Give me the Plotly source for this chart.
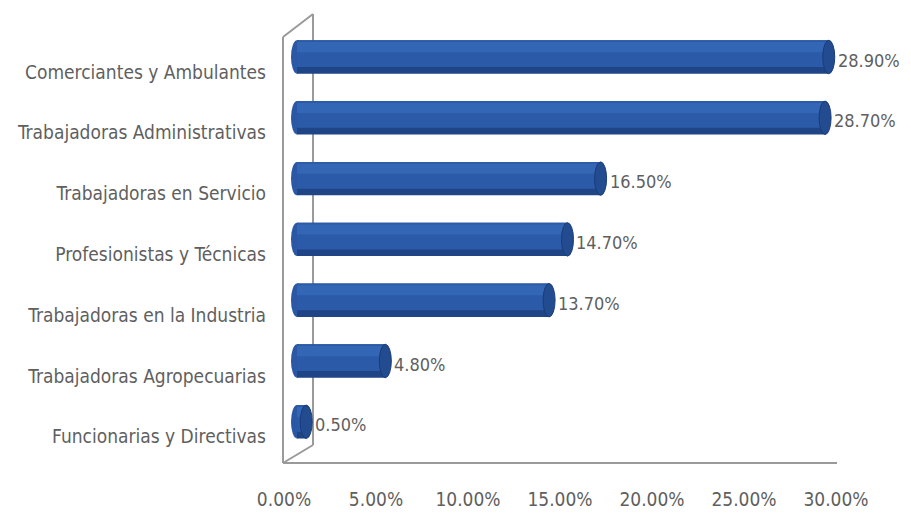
import plotly.graph_objects as go

# --- data -------------------------------------------------------------
categories = [
    "Comerciantes y Ambulantes",
    "Trabajadoras Administrativas",
    "Trabajadoras en Servicio",
    "Profesionistas y Técnicas",
    "Trabajadoras en la Industria",
    "Trabajadoras Agropecuarias",
    "Funcionarias y Directivas",
]
values = [28.9, 28.7, 16.5, 14.7, 13.7, 4.8, 0.5]
tick_values = [0, 5, 10, 15, 20, 25, 30]
tick_labels = ["0.00%", "5.00%", "10.00%", "15.00%", "20.00%", "25.00%", "30.00%"]

# --- layout constants (pixels) -----------------------------------------
W, H = 911, 518
X0_PX, PX_PER_UNIT = 297.0, 18.4        # bar origin and horizontal scale
Y0_PX, PX_PER_ROW = 57.0, 60.8          # first row centre and row pitch
BAR_T = 0.55                            # cylinder thickness (row units)
CAP = 6.0 / PX_PER_UNIT                 # half-width of the end ellipses

FONT = "Liberation Sans Narrow, DejaVu Sans Condensed, Arial Narrow, sans-serif"
TXT = "#5f5f5f"
FRAME = "#9a9a9a"

xr = [-X0_PX / PX_PER_UNIT, (W - X0_PX) / PX_PER_UNIT]
yr = [(H - Y0_PX) / PX_PER_ROW, -Y0_PX / PX_PER_ROW]
rows = list(range(len(categories)))

fig = go.Figure()

# cylinder body: dark base with lighter bands layered on top
bands = [
    (-BAR_T / 2, BAR_T, "#1f4586"),
    (-BAR_T / 2, BAR_T * 0.80, "#2b5ba8"),
    (-BAR_T / 2 + 0.03, BAR_T * 0.30, "#3366b5"),
]
for off, wd, col in bands:
    fig.add_trace(go.Bar(
        x=values, y=rows, orientation="h", base=0,
        width=wd, offset=off,
        marker=dict(color=col, line=dict(width=0)),
        hoverinfo="skip", showlegend=False,
    ))

shapes = []
# rounded near end and darker far-end cap of each cylinder
for r, v in zip(rows, values):
    shapes.append(dict(
        type="circle", xref="x", yref="y", layer="below",
        x0=-CAP, x1=CAP, y0=r - BAR_T / 2, y1=r + BAR_T / 2,
        fillcolor="#2a58a4", line=dict(width=0),
    ))
    shapes.append(dict(
        type="circle", xref="x", yref="y", layer="above",
        x0=v - CAP, x1=v + CAP, y0=r - BAR_T / 2, y1=r + BAR_T / 2,
        fillcolor="#234b90", line=dict(color="#1a3c78", width=1),
    ))

# 3-D frame: side wall and floor edge
def px(xp, yp):
    return xp / W, 1 - yp / H

frame_pts = [
    ((283, 37), (283, 463)),
    ((313, 14), (313, 445)),
    ((283, 37), (313, 14)),
    ((283, 463), (313, 445)),
    ((283, 463), (837, 463)),
]
for (a, b) in frame_pts:
    xa, ya = px(*a)
    xb, yb = px(*b)
    shapes.append(dict(
        type="line", xref="paper", yref="paper", layer="below",
        x0=xa, y0=ya, x1=xb, y1=yb,
        line=dict(color=FRAME, width=2),
    ))

# value labels at the end of each cylinder
annotations = []
for r, v in zip(rows, values):
    annotations.append(dict(
        x=v + CAP, y=r, xref="x", yref="y",
        text=f"{v:.2f}%", showarrow=False,
        xanchor="left", yanchor="middle", xshift=1, yshift=-3,
        font=dict(family=FONT, size=18, color=TXT),
    ))

fig.update_layout(
    width=W, height=H,
    margin=dict(l=0, r=0, t=0, b=0),
    paper_bgcolor="white", plot_bgcolor="white",
    barmode="overlay",
    shapes=shapes,
    annotations=annotations,
    xaxis=dict(
        domain=[0, 1], range=xr, anchor="free", position=(H - 486) / H,
        tickmode="array", tickvals=tick_values, ticktext=tick_labels,
        ticklabelshift=-13,
        showgrid=False, zeroline=False, showline=False, ticks="",
        tickfont=dict(family=FONT, size=19, color=TXT),
    ),
    yaxis=dict(
        domain=[0, 1], range=yr, anchor="free", position=266 / W,
        tickmode="array", tickvals=rows, ticktext=categories,
        ticklabelshift=-15,
        showgrid=False, zeroline=False, showline=False, ticks="",
        tickfont=dict(family=FONT, size=19, color=TXT),
    ),
)

fig.write_html("out.html")
